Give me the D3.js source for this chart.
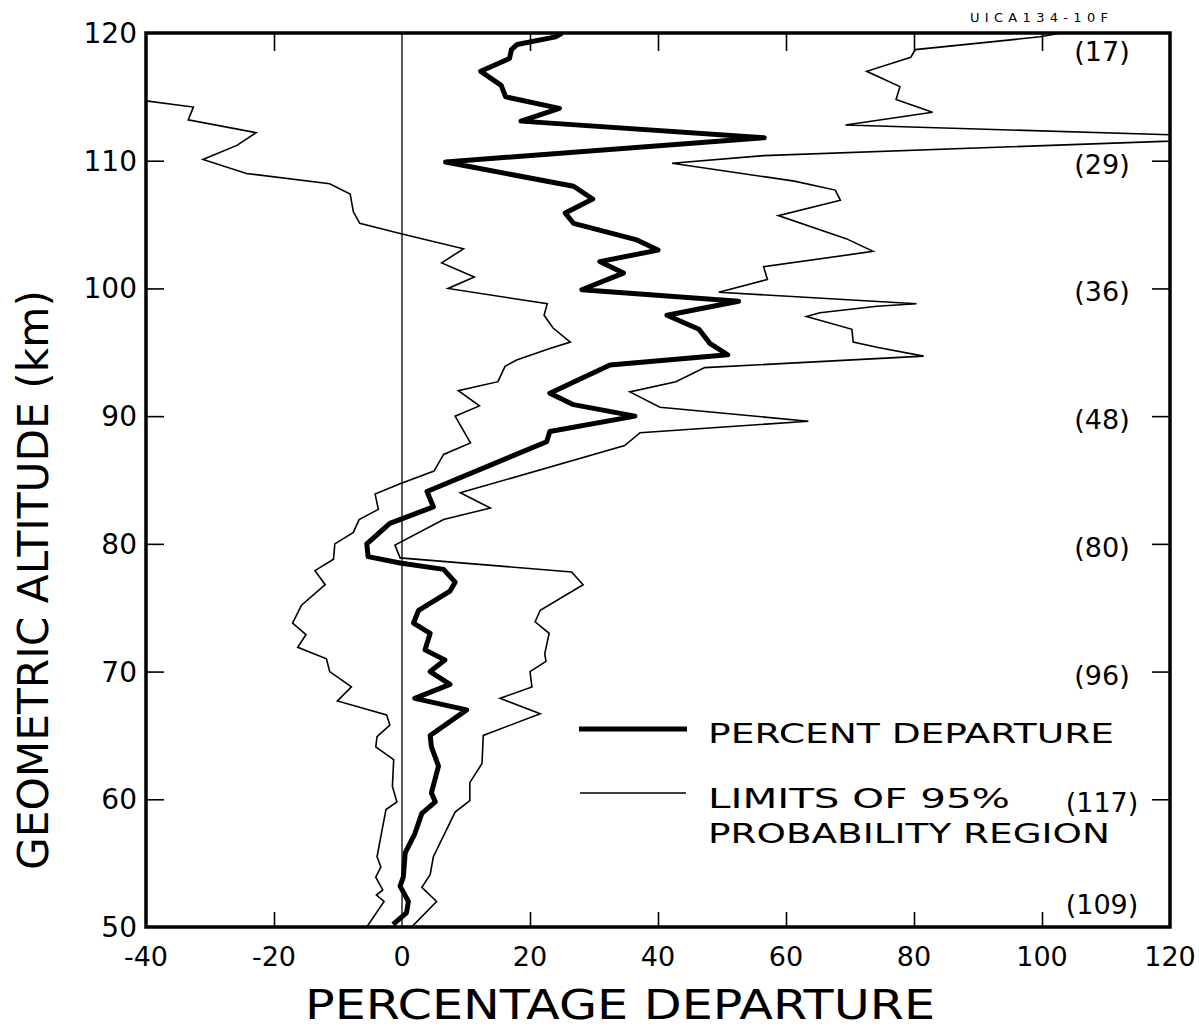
<!DOCTYPE html>
<html>
<head>
<meta charset="utf-8">
<script src="https://cdn.jsdelivr.net/npm/d3@7"></script>
<style>
  body { margin: 0; background: #fff; }
  svg { display: block; }
  text { font-family: "DejaVu Sans", sans-serif; fill: #000; }
</style>
</head>
<body>
<svg id="chart" width="1199" height="1036"></svg>
<script>
// axis ticks
var altTicks = [50, 60, 70, 80, 90, 100, 110, 120]
var pctTicks = [-40, -20, 0, 20, 40, 60, 80, 100, 120]

// percent departure (thick line), top to bottom
var departAlt = [120.0, 119.7, 119.1, 118.7, 118.0, 117.0, 115.9, 115.0, 114.1, 113.1, 111.8, 109.9,
  108.0, 107.0, 105.9, 105.1, 103.8, 103.0, 102.1, 101.2, 99.9, 99.0, 97.9, 96.8, 95.7, 94.8, 94.0,
  91.8, 90.9, 90.0, 88.8, 88.0, 84.1, 82.9, 81.6, 80.0, 79.0, 78.5, 78.0, 77.0, 76.3, 74.8, 73.8,
  73.0, 71.7, 70.9, 70.0, 69.0, 67.9, 67.0, 65.0, 64.1, 62.6, 60.5, 59.8, 58.9, 57.3, 55.8, 53.9,
  53.2, 52.0, 51.1, 50.2]
var departPct = [25.0, 24.0, 18.0, 17.1, 16.8, 12.3, 15.5, 16.2, 24.6, 18.6, 56.6, 6.8,
  26.8, 29.8, 25.5, 26.8, 36.7, 40.0, 30.9, 34.6, 28.1, 52.6, 41.4, 46.4, 48.1, 50.9, 32.5,
  23.1, 26.8, 36.4, 23.1, 22.6, 3.9, 4.9, -1.9, -5.5, -5.3, -0.3, 6.5, 8.3, 7.5, 2.6, 1.8,
  4.4, 3.6, 6.7, 4.4, 7.5, 2.0, 10.1, 4.4, 4.6, 5.7, 4.6, 5.2, 3.1, 2.0, 0.5, 0.2,
  -0.3, 1.0, 0.7, -1.4]

// lower limit of 95% region
var lowerAlt = [114.75, 114.2, 113.2, 112.2, 111.2, 110.1, 109.0, 108.2, 107.4, 106.0, 105.1, 104.3,
  103.1, 102.0, 100.9, 100.0, 98.8, 97.9, 96.9, 95.8, 95.3, 94.4, 93.9, 92.7, 92.0, 90.8, 90.0,
  87.9, 87.0, 85.7, 84.7, 83.9, 82.7, 81.9, 80.9, 80.0, 78.8, 77.9, 76.8, 75.2, 73.8, 72.9, 71.9,
  71.0, 70.0, 68.8, 67.7, 66.6, 65.8, 64.9, 64.1, 63.1, 61.0, 59.8, 59.2, 57.9, 55.5, 54.7, 53.9,
  52.9, 52.5, 52.0, 50.0]
var lowerPct = [-41.0, -32.6, -33.4, -22.8, -25.8, -31.1, -24.3, -11.3, -8.1, -7.6, -6.6, -0.3,
  9.6, 6.2, 11.3, 7.2, 22.7, 22.2, 23.6, 26.3, 23.1, 17.9, 16.1, 15.0, 8.8, 12.1, 8.3,
  10.7, 6.5, 5.0, -0.3, -4.2, -3.7, -6.7, -7.6, -10.5, -10.7, -13.6, -12.0, -15.7, -17.1, -15.0, -16.3,
  -11.8, -11.3, -7.9, -10.1, -2.4, -1.9, -3.9, -4.1, -1.3, -1.5, -0.8, -2.5, -3.0, -3.9, -3.3, -4.1,
  -3.0, -4.0, -2.8, -5.5]

// upper limit of 95% region
var upperAlt = [120.0, 119.7, 118.7, 118.1, 117.0, 115.8, 114.8, 113.8, 112.8, 111.8, 110.4, 109.8,
  108.4, 107.7, 106.9, 105.7, 103.9, 102.9, 101.7, 100.7, 99.7, 98.8, 98.6, 98.1, 97.8, 96.8, 95.8,
  95.4, 94.7, 93.8, 92.7, 91.9, 90.7, 89.6, 88.7, 87.7, 84.0, 82.8, 81.9, 79.9, 78.9, 77.8, 76.8,
  74.8, 73.9, 73.0, 71.4, 70.8, 70.0, 68.8, 67.9, 66.7, 65.0, 62.8, 61.3, 59.9, 59.0, 55.5, 54.1,
  53.1, 52.0, 50.0]
var upperPct = [103.0, 99.7, 80.2, 79.5, 72.6, 77.8, 77.2, 82.9, 69.3, 135.0, 56.5, 42.2,
  61.3, 67.7, 68.5, 58.8, 69.4, 73.6, 56.5, 57.1, 49.5, 80.4, 74.2, 65.3, 63.2, 70.3, 70.5,
  74.2, 81.5, 47.3, 42.8, 35.6, 40.3, 63.5, 37.2, 34.8, 9.1, 13.8, 6.5, -1.1, -0.3, 26.5, 28.3,
  21.6, 20.8, 23.0, 22.3, 22.5, 20.0, 20.3, 15.3, 21.6, 12.7, 12.5, 10.6, 10.6, 8.3, 4.9, 4.4,
  3.1, 5.4, 1.5]

// number of observations at each level
var countAlt = [118.8, 110, 100, 90, 80, 70, 60, 52]
var countLabels = ['(17)', '(29)', '(36)', '(48)', '(80)', '(96)', '(117)', '(109)']

var svg = d3.select('#chart')

var x = d3.scaleLinear().domain([-40, 120]).range([146, 1170])
var y = d3.scaleLinear().domain([50, 120]).range([927, 33])

svg.append('defs').append('clipPath').attr('id', 'plotclip')
  .append('rect')
  .attr('x', x(-40)).attr('y', y(120))
  .attr('width', x(120) - x(-40)).attr('height', y(50) - y(120))

function zip(alts, pcts) {
  return alts.map(function (a, i) { return { alt: a, pct: pcts[i] } })
}

var line = d3.line()
  .x(function (d) { return x(d.pct) })
  .y(function (d) { return y(d.alt) })

// zero line
svg.append('line')
  .attr('x1', x(0)).attr('x2', x(0))
  .attr('y1', y(120)).attr('y2', y(50))
  .attr('stroke', '#000').attr('stroke-width', 1.3)

var plot = svg.append('g').attr('clip-path', 'url(#plotclip)')

plot.append('path').datum(zip(lowerAlt, lowerPct))
  .attr('d', line).attr('fill', 'none')
  .attr('stroke', '#000').attr('stroke-width', 1.6).attr('stroke-linejoin', 'miter')

plot.append('path').datum(zip(upperAlt, upperPct))
  .attr('d', line).attr('fill', 'none')
  .attr('stroke', '#000').attr('stroke-width', 1.6).attr('stroke-linejoin', 'miter')

plot.append('path').datum(zip(departAlt, departPct))
  .attr('d', line).attr('fill', 'none')
  .attr('stroke', '#000').attr('stroke-width', 5).attr('stroke-linejoin', 'round')

// axes: ticks pointing inward on all four sides
var inner = pctTicks.filter(function (t) { return t > -40 && t < 120 && t != 0 })
var innerAlt = altTicks.filter(function (t) { return t > 50 && t < 120 })

svg.append('g').attr('transform', 'translate(0,' + y(50) + ')')
  .call(d3.axisTop(x).tickValues(inner).tickSize(15).tickFormat(''))
svg.append('g').attr('transform', 'translate(0,' + y(120) + ')')
  .call(d3.axisBottom(x).tickValues(inner).tickSize(18).tickFormat(''))
svg.append('g').attr('transform', 'translate(' + x(-40) + ',0)')
  .call(d3.axisRight(y).tickValues(innerAlt).tickSize(18).tickFormat(''))
svg.append('g').attr('transform', 'translate(' + x(120) + ',0)')
  .call(d3.axisLeft(y).tickValues(innerAlt).tickSize(18).tickFormat(''))
svg.selectAll('.domain').remove()
svg.selectAll('.tick line').attr('stroke', '#000').attr('stroke-width', 1.6)

// frame
svg.append('rect')
  .attr('x', x(-40)).attr('y', y(120))
  .attr('width', x(120) - x(-40)).attr('height', y(50) - y(120))
  .attr('fill', 'none').attr('stroke', '#000').attr('stroke-width', 3.5)

// tick labels
svg.append('g').selectAll('text').data(pctTicks).join('text')
  .attr('x', function (d) { return x(d) })
  .attr('y', 966)
  .attr('text-anchor', 'middle')
  .attr('font-size', 27)
  .text(function (d) { return d < 0 ? '-' + Math.abs(d) : d })

svg.append('g').selectAll('text').data(altTicks).join('text')
  .attr('x', 137)
  .attr('y', function (d) { return y(d) + 10 })
  .attr('text-anchor', 'end')
  .attr('font-size', 28)
  .text(function (d) { return d })

// axis titles
svg.append('text')
  .attr('x', 620).attr('y', 1019)
  .attr('text-anchor', 'middle')
  .attr('font-size', 40)
  .attr('textLength', 630).attr('lengthAdjust', 'spacingAndGlyphs')
  .text('PERCENTAGE DEPARTURE')

svg.append('text')
  .attr('transform', 'translate(48,580) rotate(-90)')
  .attr('text-anchor', 'middle')
  .attr('font-size', 42)
  .attr('textLength', 580).attr('lengthAdjust', 'spacingAndGlyphs')
  .text('GEOMETRIC ALTITUDE (km)')

// counts on the right
svg.append('g').selectAll('text').data(countLabels).join('text')
  .attr('x', 1102)
  .attr('y', function (d, i) { return y(countAlt[i]) + 13 })
  .attr('text-anchor', 'middle')
  .attr('font-size', 27)
  .text(function (d) { return d })

// figure id
svg.append('text')
  .attr('x', 970).attr('y', 22)
  .attr('font-size', 13)
  .attr('textLength', 138).attr('lengthAdjust', 'spacing')
  .text('UICA134-10F')

// legend
var legend = svg.append('g')
legend.append('line').attr('x1', 579).attr('x2', 687).attr('y1', 729).attr('y2', 729)
  .attr('stroke', '#000').attr('stroke-width', 5)
legend.append('line').attr('x1', 580).attr('x2', 686).attr('y1', 793).attr('y2', 793)
  .attr('stroke', '#000').attr('stroke-width', 1.6)
legend.append('text').attr('x', 708).attr('y', 743).attr('font-size', 27)
  .attr('textLength', 406).attr('lengthAdjust', 'spacingAndGlyphs')
  .text('PERCENT DEPARTURE')
legend.append('text').attr('x', 708).attr('y', 808).attr('font-size', 27)
  .attr('textLength', 302).attr('lengthAdjust', 'spacingAndGlyphs')
  .text('LIMITS OF 95%')
legend.append('text').attr('x', 708).attr('y', 843).attr('font-size', 27)
  .attr('textLength', 402).attr('lengthAdjust', 'spacingAndGlyphs')
  .text('PROBABILITY REGION')
</script>
</body>
</html>
